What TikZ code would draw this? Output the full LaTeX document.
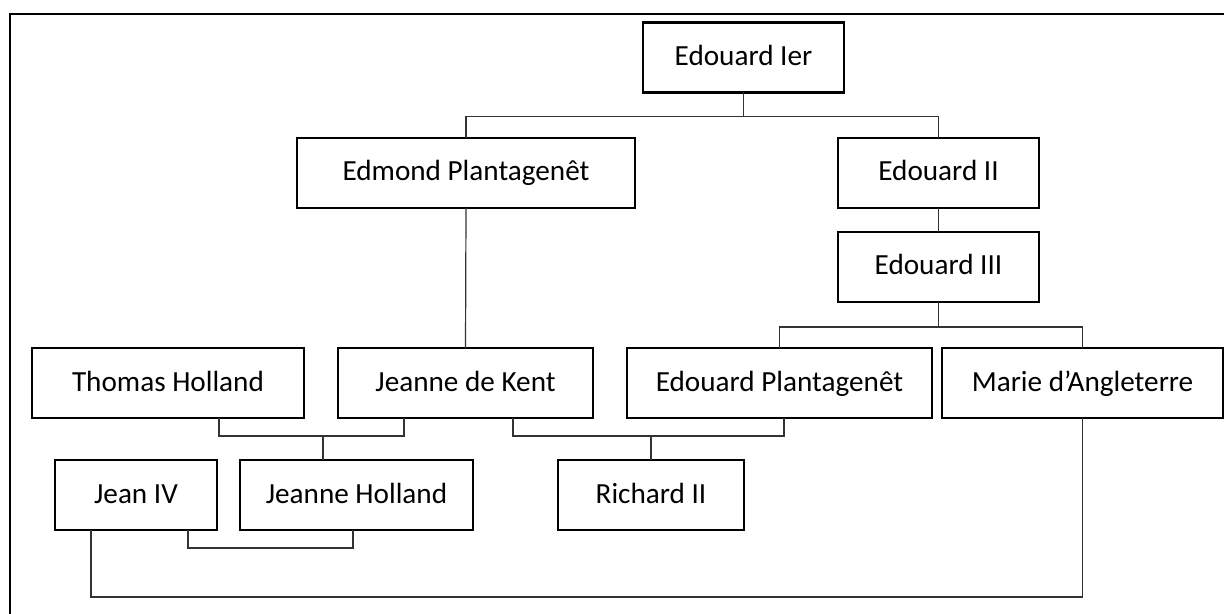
\documentclass[tikz,border=0pt]{standalone}
\usepackage{fontspec}
\setmainfont{Carlito}
\usetikzlibrary{positioning,calc}

\begin{document}
\begin{tikzpicture}[x=1pt, y=1pt,
  person/.style={draw, line width=1.2pt, font=\fontsize{14.6}{17}\selectfont,
    inner xsep=0pt, inner ysep=0pt, outer sep=0pt,
    text height=21.5pt, text depth=13.5pt},
  link/.style={line width=0.6pt, black!80},
  frame/.style={line width=1.2pt}]
\useasboundingbox (0,0) rectangle (612,-307);
\clip (0,0) rectangle (612,-307);
\draw[frame] (5,-7) rectangle (630,-330);
\node[person, minimum width=100.5pt] (ier) at (371.75,-28.75) {Edouard Ier};
\node[person, minimum width=169pt] (edmond) at (233,-86.5) {Edmond Plantagenêt};
\node[person, minimum width=100.5pt, right=101.5pt of edmond] (ed2) {Edouard II};
\node[person, minimum width=100.5pt, below=12pt of ed2] (ed3) {Edouard III};
\node[person, minimum width=136pt] (thomas) at (84,-191.5) {Thomas Holland};
\node[person, minimum width=127.5pt, right=17pt of thomas] (kent) {Jeanne de Kent};
\node[person, minimum width=152.5pt, right=17pt of kent] (edpl) {Edouard Plantagenêt};
\node[person, minimum width=140.5pt, right=5pt of edpl] (marie) {Marie d’Angleterre};
\node[person, minimum width=81pt] (jean) at (68,-247.5) {Jean IV};
\node[person, minimum width=116.5pt, right=11.5pt of jean] (jholl) {Jeanne Holland};
\node[person, minimum width=93pt, right=42.5pt of jholl] (rich) {Richard II};
\draw[link] (ier.south) -- ++(0,-12) coordinate (c1);
\draw[link] (edmond.north) |- (c1) -| (ed2.north);
\draw[link] (ed2) -- (ed3);
\draw[link] (ed3.south) -- ++(0,-12.5) coordinate (c2);
\draw[link] (edpl.north) |- (c2) -| (marie.north);
\draw[link] (edmond.south) -- (kent.north);
\draw[link] ([xshift=25.5pt]thomas.south) -- ++(0,-9) coordinate (c3)
  -| ([xshift=-30.75pt]kent.south);
\draw[link] ([xshift=-16.75pt]jholl.north) |- (c3);
\draw[link] ([xshift=23.75pt]kent.south) -- ++(0,-9) coordinate (c4)
  -| ([xshift=2.25pt]edpl.south);
\draw[link] (rich.north) |- (c4);
\draw[link] ([xshift=26pt]jean.south) -- ++(0,-9) -| ([xshift=-1.75pt]jholl.south);
\draw[link] ([xshift=-22.5pt]jean.south) -- ++(0,-33.5) -| (marie.south);
\end{tikzpicture}
\end{document}
